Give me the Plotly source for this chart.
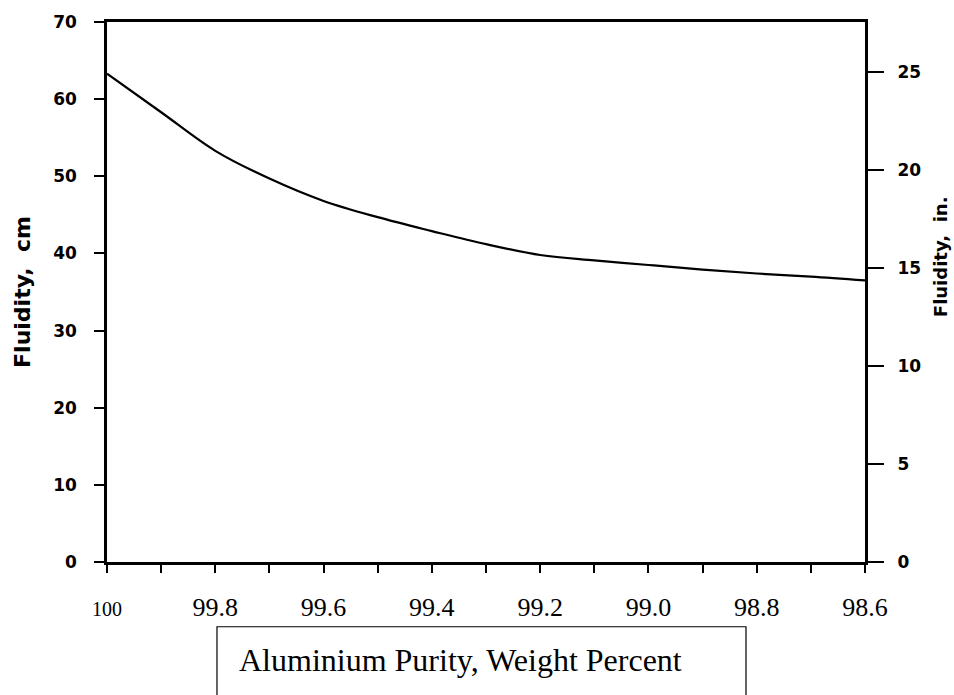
import plotly.graph_objects as go

# Aluminium purity (wt %) and measured fluidity (spiral length, cm)
purity = [100.0, 99.9, 99.8, 99.7, 99.6, 99.5, 99.4, 99.3, 99.2, 99.1, 99.0, 98.9, 98.8, 98.7, 98.6]
fluidity_cm = [63.3, 58.3, 53.3, 49.7, 46.8, 44.7, 42.9, 41.2, 39.8, 39.1, 38.5, 37.9, 37.4, 37.0, 36.5]

# Bottom axis: ticks every 0.1, labels every 0.2
x_tick_vals = [100.0, 99.9, 99.8, 99.7, 99.6, 99.5, 99.4, 99.3, 99.2, 99.1, 99.0, 98.9, 98.8, 98.7, 98.6]
x_tick_labels = ["100", "", "99.8", "", "99.6", "", "99.4", "", "99.2", "", "99.0", "", "98.8", "", "98.6"]

cm_ticks = [0, 10, 20, 30, 40, 50, 60, 70]
in_ticks = [0, 5, 10, 15, 20, 25]
CM_PER_IN = 2.54

fluidity_in = [v / CM_PER_IN for v in fluidity_cm]


def serif_label(txt):
    # the 100 label is set a size smaller than the others
    size = 20 if txt == "100" else 26
    return (f"<span style='font-family:\"Liberation Serif\";font-weight:normal;"
            f"font-size:{size}px'>{txt}</span>") if txt else ""


fig = go.Figure()
fig.add_trace(go.Scatter(
    x=purity, y=fluidity_cm, mode="lines",
    line=dict(color="black", width=2.2, shape="spline", smoothing=1.0),
    showlegend=False, hoverinfo="x+y",
))
# same curve in inches, carried by the right-hand axis
fig.add_trace(go.Scatter(
    x=purity, y=fluidity_in, mode="lines", yaxis="y2",
    line=dict(color="black", width=2.2, shape="spline", smoothing=1.0),
    opacity=0, showlegend=False, hoverinfo="skip",
))

sans_bold = dict(family="DejaVu Sans", size=17, color="black", weight="bold")
serif = dict(family="Liberation Serif", size=26, color="black", weight="normal")

fig.update_layout(
    width=954, height=695,
    margin=dict(l=107, r=89, t=20, b=133),
    paper_bgcolor="white", plot_bgcolor="white",
    font=dict(family="Liberation Serif", color="black"),
    xaxis=dict(
        range=[100.0, 98.6], tickvals=x_tick_vals,
        ticktext=[serif_label(t) for t in x_tick_labels],
        ticks="outside", ticklen=8, tickwidth=2, tickcolor="black",
        showline=True, linecolor="black", linewidth=2.5, mirror=True,
        showgrid=False, zeroline=False,
        tickfont=serif, ticklabelstandoff=12,
    ),
    yaxis=dict(
        range=[0, 70], tickvals=cm_ticks,
        ticks="outside", ticklen=10, tickwidth=2, tickcolor="black",
        showline=True, linecolor="black", linewidth=2.5,
        showgrid=False, zeroline=False,
        tickfont=sans_bold, ticklabelstandoff=14,
        title=dict(text="Fluidity,  cm",
                   font=dict(family="DejaVu Sans", size=22, color="black", weight="bold"),
                   standoff=17),
    ),
    yaxis2=dict(
        range=[0, 70 / CM_PER_IN], tickvals=in_ticks, overlaying="y", side="right",
        ticks="outside", ticklen=16, tickwidth=2, tickcolor="black",
        showline=True, linecolor="black", linewidth=3,
        showgrid=False, zeroline=False,
        tickfont=sans_bold, ticklabelstandoff=10,
    ),
)

# right-hand axis caption, set a little above the plot centre
fig.add_annotation(xref="paper", yref="paper", x=1.099, y=0.5646,
                   xanchor="center", yanchor="middle", showarrow=False, textangle=-90,
                   text="Fluidity,  in.",
                   font=dict(family="DejaVu Sans", size=18, color="black", weight="bold"))

# Boxed axis caption below the chart (open at the page bottom)
fig.add_shape(type="rect", xref="paper", yref="paper",
              x0=0.1451, x1=0.843, y0=-0.30, y1=-0.1199,
              line=dict(color="black", width=1.2), fillcolor="rgba(0,0,0,0)")
fig.add_annotation(xref="paper", yref="paper", x=0.1715, y=-0.181,
                   xanchor="left", yanchor="middle", showarrow=False,
                   text="Aluminium Purity, Weight Percent",
                   font=dict(family="Liberation Serif", size=32, color="black", weight="normal"))

fig.write_html("out.html")
